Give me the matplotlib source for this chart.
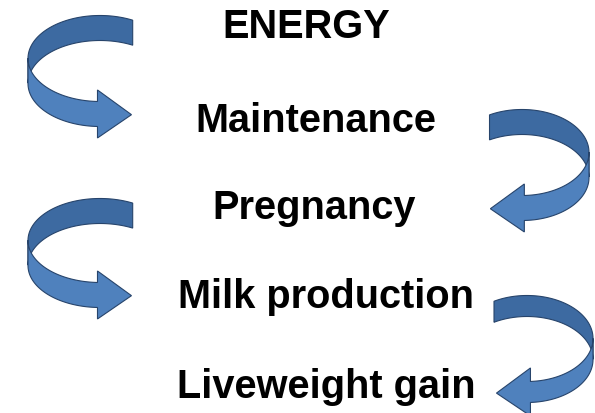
import numpy as np
import matplotlib.pyplot as plt
from matplotlib.patches import Polygon

# the flow of energy, top to bottom
labels = ["ENERGY", "Maintenance", "Pregnancy", "Milk production", "Liveweight gain"]
label_x = [306, 316, 314, 326, 326]
label_y = [38, 132, 219, 308, 398]

# curved ribbon arrows: centre, radii, start/end angle (deg), ribbon width
arrows = [
    dict(cx=100, cy=72, rx=72, ry=43, t0=-63, t1=-268, w=25),
    dict(cx=522, cy=166, rx=67, ry=43, t0=-119, t1=88, w=25),
    dict(cx=100, cy=254, rx=72, ry=42, t0=-63, t1=-268, w=25),
    dict(cx=527, cy=350, rx=66, ry=43, t0=-120, t1=87, w=21),
]

BACK = "#3d6aa1"
FRONT = "#4f81bd"
EDGE = "#27446b"


def ribbon_arrow(ax, cx, cy, rx, ry, t0, t1, w, head_len=34, head_w=48):
    t = np.radians(np.linspace(t0, t1, 300))
    x = cx + rx * np.cos(t)
    y = cy + ry * np.sin(t)
    back = y <= cy
    # back half of the ribbon (upper part, darker)
    xb, yb = x[back], y[back]
    pts = list(zip(xb, yb - w / 2)) + list(zip(xb[::-1], yb[::-1] + w / 2))
    ax.add_patch(Polygon(pts, closed=True, fc=BACK, ec=EDGE, lw=0.8))
    # front half plus the head
    i = np.argmax(~back) - 1
    xf, yf = x[i:], y[i:]
    sgn = np.sign(t1 - t0)
    dx = -rx * np.sin(t[-1]) * sgn
    dy = ry * np.cos(t[-1]) * sgn
    n = np.hypot(dx, dy)
    dx, dy = dx / n, dy / n
    ex, ey = xf[-1], yf[-1]
    tip = (ex + dx * head_len, ey + dy * head_len)
    pts = list(zip(xf, yf - w / 2))
    pts += [(ex, ey - head_w / 2), tip, (ex, ey + head_w / 2)]
    pts += list(zip(xf[::-1], yf[::-1] + w / 2))
    ax.add_patch(Polygon(pts, closed=True, fc=FRONT, ec=EDGE, lw=0.8))


fig = plt.figure(figsize=(5.95, 4.14), dpi=100)
ax = fig.add_axes([0, 0, 1, 1])
ax.set_xlim(0, 595)
ax.set_ylim(414, 0)
ax.axis("off")

for a in arrows:
    ribbon_arrow(ax, **a)

for lab, x, y in zip(labels, label_x, label_y):
    ax.text(x, y, lab, ha="center", va="baseline", fontsize=28.6,
            fontweight="bold", family="Liberation Sans", color="black")

fig.savefig("out.png", dpi=100, facecolor="white")
